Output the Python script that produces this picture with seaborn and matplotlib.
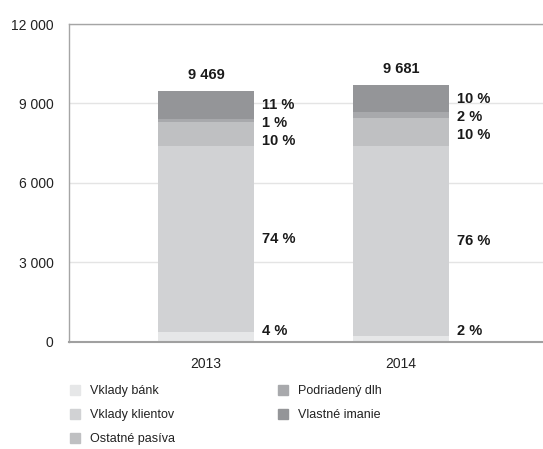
import numpy as np
import pandas as pd
import seaborn as sns
import matplotlib.pyplot as plt
from matplotlib.lines import Line2D

sns.set_theme(style="white")
plt.rcParams["font.family"] = ["Liberation Sans", "DejaVu Sans"]

years = ["2013", "2014"]
segments = ["Vklady bánk", "Vklady klientov", "Ostatné pasíva", "Podriadený dlh", "Vlastné imanie"]
vklady_bank = [350, 220]
vklady_klientov = [7040, 7170]
ostatne_pasiva = [910, 1050]
podriadeny_dlh = [120, 220]
vlastne_imanie = [1049, 1021]
totals = ["9 469", "9 681"]
pct_2013 = ["4 %", "74 %", "10 %", "1 %", "11 %"]
pct_2014 = ["2 %", "76 %", "10 %", "2 %", "10 %"]
colors = ["#e6e7e8", "#d1d2d4", "#bfc0c2", "#a8a9ac", "#949598"]

df = pd.DataFrame({"year": years,
                   segments[0]: vklady_bank,
                   segments[1]: vklady_klientov,
                   segments[2]: ostatne_pasiva,
                   segments[3]: podriadeny_dlh,
                   segments[4]: vlastne_imanie})
cum = df[segments].cumsum(axis=1)

fig = plt.figure(figsize=(5.43, 4.49), dpi=100)
ax = fig.add_axes([0.127, 0.239, 0.873, 0.7075])

# stacked bars: draw cumulative heights from the top segment down
for seg, col in zip(segments[::-1], colors[::-1]):
    sns.barplot(x=df["year"], y=cum[seg], color=col, width=0.49,
                saturation=1, ax=ax, zorder=2, linewidth=0, edgecolor="none")

ax.set_xlim(-0.703, 1.73)
ax.set_ylim(0, 12000)
ax.set_yticks([0, 3000, 6000, 9000, 12000])
ax.set_yticklabels(["0", "3 000", "6 000", "9 000", "12 000"])
ax.set_xlabel("")
ax.set_ylabel("")
ax.yaxis.grid(True, color="#e4e4e4", lw=1)
ax.set_axisbelow(True)
ax.tick_params(axis="y", length=6, color="#e4e4e4", width=1, labelsize=10,
               labelcolor="#222222", pad=5)
ax.tick_params(axis="x", length=0, labelsize=10, labelcolor="#222222", pad=11)
for side in ["left", "top"]:
    ax.spines[side].set_color("#a5a5a5")
    ax.spines[side].set_linewidth(1)
ax.spines["bottom"].set_color("#a0a0a0")
ax.spines["bottom"].set_linewidth(1.5)
ax.spines["right"].set_visible(False)

# labels
min_gap = 680
for i, pcts in enumerate([pct_2013, pct_2014]):
    tops = cum.iloc[i].values
    bottoms = np.concatenate([[0], tops[:-1]])
    mids = (tops + bottoms) / 2
    ys = list(mids)
    ys[0] = max(ys[0], 400)
    for k in range(len(ys) - 2, 1, -1):
        ys[k] = min(ys[k], ys[k + 1] - min_gap)
    for y, t in zip(ys, pcts):
        ax.annotate(t, (i + 0.245, y), xytext=(6, 0), textcoords="offset points",
                    ha="left", va="center", fontsize=10.5, fontweight="bold",
                    color="#1a1a1a")
    ax.annotate(totals[i], (i, tops[-1]), xytext=(0, 11.5), textcoords="offset points",
                ha="center", va="center", fontsize=10.5, fontweight="bold",
                color="#1a1a1a")

handles = [Line2D([], [], marker="s", ls="none", markersize=7, color=c) for c in colors]
fig.legend(handles, segments, loc="upper left", bbox_to_anchor=(0.126, 0.142),
           ncol=2, frameon=False, fontsize=9, labelspacing=0.95, columnspacing=8.2,
           handlelength=1.0, handletextpad=0.7, borderpad=0, borderaxespad=0,
           labelcolor="#222222")

fig.savefig("out.png", dpi=100)
